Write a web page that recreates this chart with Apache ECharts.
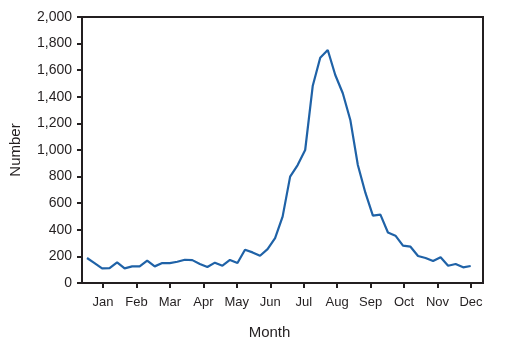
<!DOCTYPE html>
<html>
<head>
	<meta charset="utf-8">
	<title></title>
	<script src="https://cdn.jsdelivr.net/npm/echarts@6/dist/echarts.min.js"></script>
	<style>
		html, body { margin: 0; padding: 0; background: #fff; }
	</style>
</head>
<body>
	<div id="main" style="width: 506px;height:353px;"></div>
	<script type="text/javascript">
		// month labels on the x axis (axis runs in month units, Jan = 1)
		var months = ['Jan', 'Feb', 'Mar', 'Apr', 'May', 'Jun', 'Jul', 'Aug', 'Sep', 'Oct', 'Nov', 'Dec'];
		var monthTicks = [1, 2, 3, 4, 5, 6, 7, 8, 9, 10, 11, 12];
		// weekly counts
		var weekly = [188, 150, 110, 112, 155, 110, 125, 125, 168, 125,
			150, 150, 160, 175, 172, 143, 120, 153, 130, 173,
			150, 250, 230, 205, 255, 338, 499, 800, 887, 1000,
			1481, 1694, 1752, 1564, 1427, 1226, 887, 679, 506, 514,
			380, 356, 281, 273, 203, 188, 165, 193, 130, 143,
			118, 128];
		// first week sits a bit before Jan, one week ~ 0.225 month on this axis
		var firstWeekPos = 0.522;
		var weekStep = 0.2249;

		var points = [];
		for (var i = 0; i < weekly.length; i++) {
			points.push([firstWeekPos + i * weekStep, weekly[i]]);
		}

		var ink = '#231f20';
		var font = 'Liberation Sans, Arial, Helvetica, sans-serif';

		var myChart = echarts.init(document.getElementById('main'));
		var option = {
			animation: false,
			grid: {
				left: 82, right: 23, top: 17, bottom: 70,
				show: true,
				borderColor: ink,
				borderWidth: 2
			},
			xAxis: {
				type: 'value',
				min: 0.372,
				max: 12.36,
				name: 'Month',
				nameLocation: 'middle',
				nameGap: 42,
				nameTextStyle: { color: ink, fontSize: 15, fontFamily: font, padding: [0, 26, 0, 0] },
				splitLine: { show: false },
				axisLine: { show: true, lineStyle: { color: ink, width: 2 } },
				axisTick: { show: true, customValues: monthTicks, length: 5, inside: false, lineStyle: { color: ink, width: 2 } },
				axisLabel: {
					customValues: monthTicks,
					margin: 13,
					color: ink,
					fontSize: 13,
					fontFamily: font,
					formatter: function (v) { return months[Math.round(v) - 1]; }
				}
			},
			yAxis: {
				type: 'value',
				min: 0,
				max: 2000,
				interval: 200,
				name: 'Number',
				nameLocation: 'middle',
				nameGap: 59,
				nameTextStyle: { color: ink, fontSize: 15, fontFamily: font },
				splitLine: { show: false },
				axisLine: { show: true, lineStyle: { color: ink, width: 2 } },
				axisTick: { show: true, length: 5, lineStyle: { color: ink, width: 2 } },
				axisLabel: {
					margin: 10,
					color: ink,
					fontSize: 14,
					fontFamily: font,
					formatter: function (v) { return v.toLocaleString('en-US'); }
				}
			},
			series: [
				{
					type: 'line',
					data: points,
					showSymbol: false,
					symbol: 'none',
					lineStyle: { color: '#1f62a7', width: 2.2 },
					itemStyle: { color: '#1f62a7' }
				}
			]
		};
		myChart.setOption(option);
	</script>
</body>
</html>
